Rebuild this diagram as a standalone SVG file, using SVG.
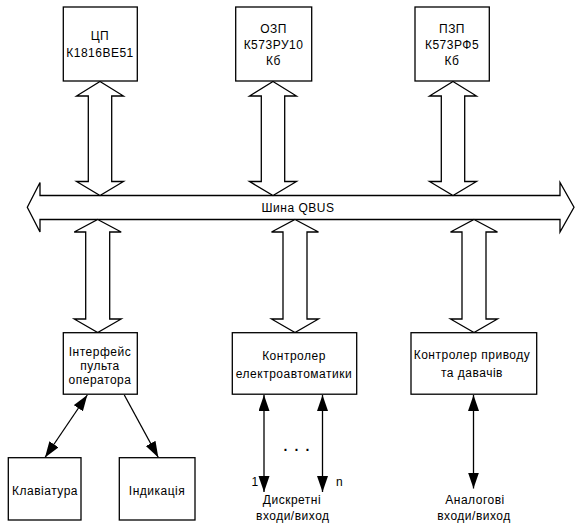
<svg xmlns="http://www.w3.org/2000/svg" width="582" height="530" viewBox="0 0 582 530">
<style>
.box{fill:#fff;stroke:#000;stroke-width:1.3}
.blk{fill:#fff;stroke:#000;stroke-width:1.3;stroke-linejoin:miter}
.ln{fill:none;stroke:#000;stroke-width:1.3}
text{font-family:"Liberation Sans",Arial,sans-serif;font-size:12px;fill:#000;text-anchor:middle;letter-spacing:0.5px}
</style>
<defs>
<marker id="ah" markerUnits="userSpaceOnUse" markerWidth="17" markerHeight="12" refX="16" refY="5.5" orient="auto-start-reverse" viewBox="0 0 17 12">
<path d="M0,0 L16,5.5 L0,11 z" fill="#000"/>
</marker>
</defs>
<rect width="582" height="530" fill="#fff"/>

<g id="connectors">
<polygon id="bus" class="blk" points="27.3,207.3 40,182.5 40,195.5 560,195.5 560,182.5 574,207.3 560,232 560,219.5 40,219.5 40,232"/>
<polygon class="blk" points="100,81.5 123.5,96 111.7,96 111.7,181.5 123.5,181.5 100,195.5 76.5,181.5 88.3,181.5 88.3,96 76.5,96"/>
<polygon class="blk" points="273,81.5 296.5,96 284.7,96 284.7,181.5 296.5,181.5 273,195.5 249.5,181.5 261.3,181.5 261.3,96 249.5,96"/>
<polygon class="blk" points="453,81.5 476.5,96 464.7,96 464.7,181.5 476.5,181.5 453,195.5 429.5,181.5 441.3,181.5 441.3,96 429.5,96"/>
<polygon class="blk" points="97.7,219.5 121.2,232 109.7,232 109.7,319 121.2,319 97.7,332.5 74.2,319 85.7,319 85.7,232 74.2,232"/>
<polygon class="blk" points="295,219.5 318.5,232 307,232 307,319 318.5,319 295,332.5 271.5,319 283,319 283,232 271.5,232"/>
<polygon class="blk" points="474,219.5 497.5,232 486,232 486,319 497.5,319 474,332.5 450.5,319 462,319 462,232 450.5,232"/>
<line class="ln" x1="87.3" y1="395" x2="45" y2="457.5" marker-start="url(#ah)" marker-end="url(#ah)"/>
<line class="ln" x1="124.3" y1="395" x2="158.3" y2="457.5" marker-end="url(#ah)"/>
<line class="ln" x1="264" y1="395" x2="264" y2="492" marker-start="url(#ah)" marker-end="url(#ah)"/>
<line class="ln" x1="322.5" y1="395" x2="322.5" y2="492" marker-start="url(#ah)" marker-end="url(#ah)"/>
<line class="ln" x1="473.5" y1="395" x2="473.5" y2="488.5" marker-start="url(#ah)" marker-end="url(#ah)"/>
</g>
<text x="298" y="211.5">Шина QBUS</text>

<g id="cpu"><rect class="box" x="63.3" y="7" width="74" height="74"/>
<text x="100" y="40">ЦП</text><text x="100" y="56.5">К1816ВЕ51</text></g>
<g id="ram"><rect class="box" x="235.7" y="7" width="76" height="74"/>
<text x="273.5" y="33.3">ОЗП</text><text x="273.5" y="49">К573РУ10</text><text x="273.5" y="64.5">Кб</text></g>
<g id="rom"><rect class="box" x="415" y="7" width="74.3" height="74"/>
<text x="452" y="32.7">ПЗП</text><text x="452" y="49.3">К573РФ5</text><text x="452" y="65">Кб</text></g>

<g id="iface"><rect class="box" x="63.3" y="332.7" width="74" height="61.5"/>
<text x="100" y="356">Інтерфейс</text><text x="100" y="369.5">пульта</text><text x="100" y="383.5">оператора</text></g>
<g id="electro"><rect class="box" x="232.3" y="332.7" width="124.4" height="61.5"/>
<text x="294" y="360">Контролер</text><text x="294" y="377.7">електроавтоматики</text></g>
<g id="drive"><rect class="box" x="411" y="332.7" width="125.7" height="61.5"/>
<text x="472" y="359.3">Контролер приводу</text><text x="472" y="376.7">та давачів</text></g>
<g id="keyboard"><rect class="box" x="8.3" y="457.7" width="72.7" height="62.3"/>
<text x="45" y="495">Клавіатура</text></g>
<g id="indication"><rect class="box" x="119.3" y="457.7" width="75.7" height="62.3"/>
<text x="157" y="495">Індикація</text></g>

<g id="discrete">
<text x="255" y="485.5">1</text>
<text x="339.5" y="485.5">n</text>
<text x="297.3" y="451" style="font-size:14px;font-weight:bold;letter-spacing:1.6px">. . .</text>
<text x="292" y="504">Дискретні</text>
<text x="292.8" y="520">входи/виход</text>
</g>
<g id="analog">
<text x="475" y="504.3">Аналогові</text>
<text x="474" y="520">входи/виход</text>
</g>
</svg>
